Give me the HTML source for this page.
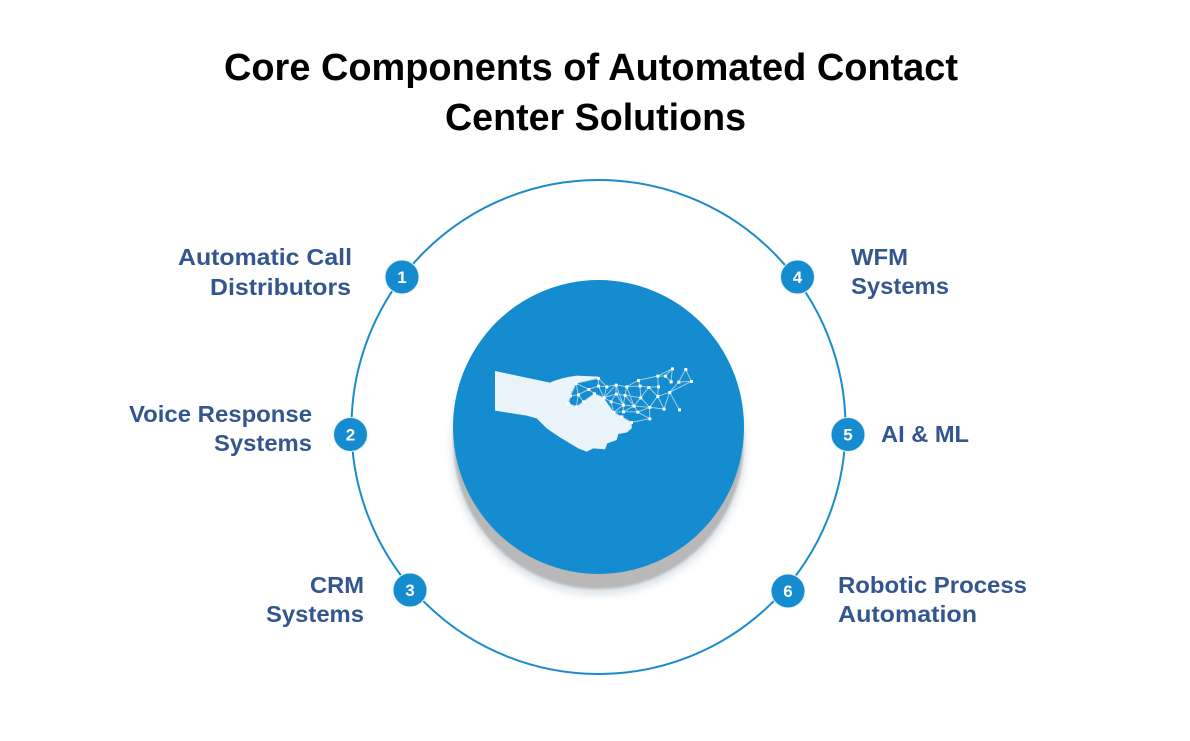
<!DOCTYPE html>
<html>
<head>
<meta charset="utf-8">
<style>
html,body{margin:0;padding:0;background:#fff;width:1190px;height:741px;overflow:hidden}
svg{display:block}
text{font-family:"Liberation Sans",sans-serif;font-weight:700}
.l{fill:#34568f;font-size:23.5px}
.n{fill:#fff;font-size:17px;text-anchor:middle}
</style>
</head>
<body>
<svg width="1190" height="741" viewBox="0 0 1190 741" xmlns="http://www.w3.org/2000/svg">
<defs>
<filter id="b1" x="-20%" y="-20%" width="140%" height="140%"><feGaussianBlur stdDeviation="4"/></filter>
<filter id="b2" x="-20%" y="-20%" width="140%" height="140%"><feGaussianBlur stdDeviation="1"/></filter>
</defs>
<rect width="1190" height="741" fill="#fff"/>

<text x="224" y="80" font-size="38" textLength="734" lengthAdjust="spacingAndGlyphs" fill="#000">Core Components of Automated Contact</text>
<text x="445" y="130" font-size="38" textLength="301" lengthAdjust="spacingAndGlyphs" fill="#000">Center Solutions</text>

<circle cx="598.5" cy="427" r="247" fill="none" stroke="#1b8bc9" stroke-width="2"/>

<ellipse cx="598.5" cy="447" rx="147" ry="148" fill="#dbe3e8" filter="url(#b1)"/>
<ellipse cx="598.5" cy="443" rx="145" ry="146" fill="#b8b8b8" filter="url(#b2)"/>
<ellipse cx="598.5" cy="427" rx="145.5" ry="147" fill="#148ccf"/>

<g transform="translate(480 350) scale(.33333)">
<path d="M45 63L210 98Q240 84 290 77L355 80L355 86L290 100L275 125L265 158L290 172L310 155L342 130L372 145L400 185L425 200L455 218L455 235L440 248L415 252L410 270L382 280L375 298L340 295L320 305L295 295L240 262L200 235L170 205L140 197L45 182Z" fill="#e9f3f8"/>
<g stroke="#a6d4ea" stroke-width="2.8" fill="none">
<path d="M355 85L288 100L272 138L265 160L289 170L310 155L343 131L372 143L393 155L401 187L425 200L454 217L509 206L473 186L430 185L401 187"/>
<path d="M288 100L295 134L272 138M295 134L289 170M295 134L326 118L288 100M326 118L355 108L355 85L380 110L408 105L440 110L475 91L533 78L556 78L577 56L573 95L556 78M533 78L535 110L506 112L480 108L475 91M480 108L440 110L435 136L408 132L408 105L372 143L355 108L380 110L372 143L343 131L326 118M310 155L295 134M408 132L393 155L430 165L408 132M430 165L435 136L462 168L430 165L430 185L462 168L473 186L509 172L462 168L482 143L435 136M440 110L462 168M482 143L480 108M482 143L509 172L533 139L506 112L482 143M506 112L533 139L535 110M533 139L552 177L509 172L509 206M533 139L569 127L598 179M569 127L552 177M569 127L596 96L617 58L634 94L596 96M634 94L569 127M577 56L533 78M408 105L430 165M372 143L408 132M401 187L430 165"/>
</g>
<g fill="#fff" stroke="#fff" stroke-width="2" stroke-linejoin="round">
<path d="M352 82h7v7h-7zM285 97h7v7h-7zM323 115h7v7h-7zM292 131h7v7h-7zM269 135h6v6h-6zM262 157h7v7h-7zM286 167h7v7h-7zM307 152h7v7h-7zM340 128h7v7h-7zM352 105h7v7h-7zM377 107h7v7h-7zM405 102h7v7h-7zM406 129h7v7h-7zM369 140h7v7h-7zM390 152h7v7h-7zM437 107h7v7h-7zM432 133h7v7h-7zM472 88h7v7h-7zM477 105h7v7h-7zM503 109h7v7h-7zM532 107h7v7h-7zM530 75h7v7h-7zM553 75h7v7h-7zM574 53h7v7h-7zM570 92h7v7h-7zM614 55h7v7h-7zM631 91h7v7h-7zM593 93h7v7h-7zM566 124h7v7h-7zM530 136h7v7h-7zM479 140h7v7h-7zM427 162h7v7h-7zM459 165h7v7h-7zM506 169h7v7h-7zM549 174h7v7h-7zM595 176h7v7h-7zM427 182h7v7h-7zM398 184h7v7h-7zM470 183h7v7h-7zM422 197h7v7h-7zM451 214h7v7h-7zM506 203h7v7h-7z"/>
</g>
</g>

<g fill="#148ccf" stroke="#e8f3f9" stroke-width="1">
<circle cx="402" cy="277" r="17"/>
<circle cx="350.500" cy="434.500" r="17"/>
<circle cx="410" cy="590" r="17"/>
<circle cx="797.500" cy="277" r="17"/>
<circle cx="848" cy="434.500" r="17"/>
<circle cx="788" cy="591" r="17"/>
</g>
<text class="n" x="402" y="283">1</text>
<text class="n" x="350.500" y="440.500">2</text>
<text class="n" x="410" y="596">3</text>
<text class="n" x="797.500" y="283">4</text>
<text class="n" x="848" y="440.500">5</text>
<text class="n" x="788" y="597">6</text>

<text class="l" x="178" y="265" textLength="174" lengthAdjust="spacingAndGlyphs">Automatic Call</text>
<text class="l" x="210" y="295" textLength="141" lengthAdjust="spacingAndGlyphs">Distributors</text>
<text class="l" x="129" y="422" textLength="183" lengthAdjust="spacingAndGlyphs">Voice Response</text>
<text class="l" x="214" y="451" textLength="98" lengthAdjust="spacingAndGlyphs">Systems</text>
<text class="l" x="310" y="593" textLength="54" lengthAdjust="spacingAndGlyphs">CRM</text>
<text class="l" x="266" y="622" textLength="98" lengthAdjust="spacingAndGlyphs">Systems</text>
<text class="l" x="851" y="265" textLength="57" lengthAdjust="spacingAndGlyphs">WFM</text>
<text class="l" x="851" y="294" textLength="98" lengthAdjust="spacingAndGlyphs">Systems</text>
<text class="l" x="881" y="442" textLength="88" lengthAdjust="spacingAndGlyphs">AI &amp; ML</text>
<text class="l" x="838" y="593" textLength="189" lengthAdjust="spacingAndGlyphs">Robotic Process</text>
<text class="l" x="838" y="622" textLength="139" lengthAdjust="spacingAndGlyphs">Automation</text>
</svg>
</body>
</html>
